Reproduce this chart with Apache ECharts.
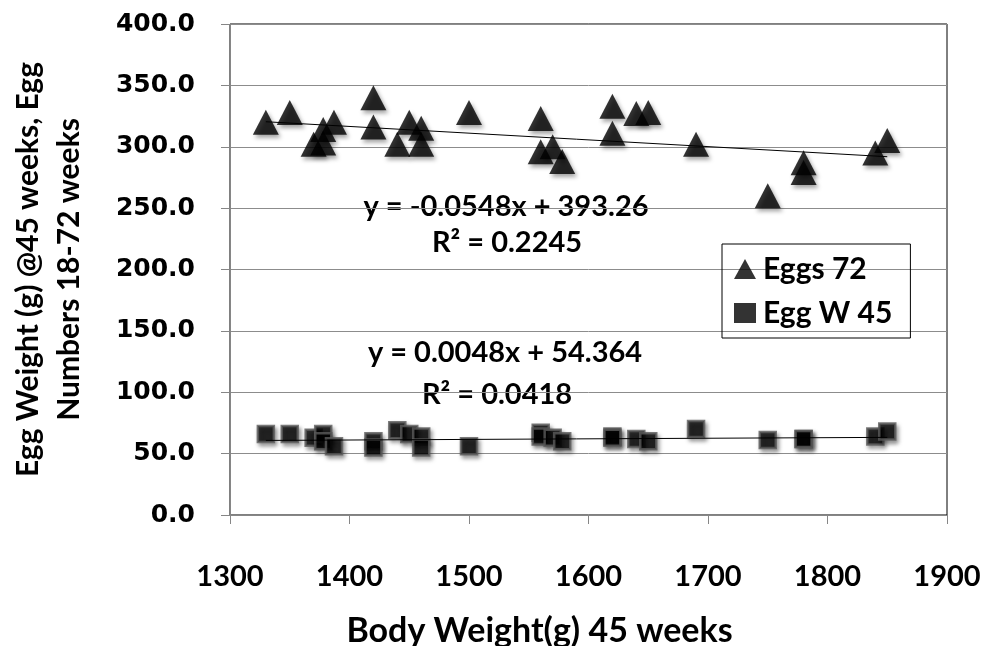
<!DOCTYPE html>
<html>
<head>
<meta charset="utf-8">
<script src="https://cdn.jsdelivr.net/npm/echarts@6/dist/echarts.min.js"></script>
<style>
html,body{margin:0;padding:0;background:#fff;}
#chart{width:987px;height:646px;}
</style>
</head>
<body>
<div id="chart"></div>
<script>
// Body weight (g) at 45 weeks
var bodyWeight = [1330,1350,1370,1378,1378,1387,1420,1420,1440,1450,1460,1460,1500,1560,1560,1570,1578,1620,1620,1640,1650,1690,1750,1780,1780,1840,1850];
// Egg numbers 18-72 weeks
var eggs72 = [320,328,302,303,314,320,340,316,302,320,315,302,328,323,296,300,288,333,311,327,328,302,260,287,279,295,305];
// Egg weight (g) at 45 weeks
var eggW45 = [66,66,63,66,60,56,60,55,69,66,64,55,56,67,64,63,60,64,63,62,60,70,61,62,62,64,68];
// Trendline coefficients (as printed on chart)
var trendEggs = {slope:-0.0548, intercept:393.26, r2:'0.2245'};
var trendW = {slope:0.0048, intercept:54.364, r2:'0.0418'};
var xTicks = [1300,1400,1500,1600,1700,1800,1900];
var yTicks = [0,50,100,150,200,250,300,350,400];

function pairs(xs, ys){ return xs.map(function(x,i){return [x, ys[i]];}); }
function trendPts(xs, t){
  var lo = Math.min.apply(null, xs), hi = Math.max.apply(null, xs);
  return [[lo, t.slope*lo + t.intercept],[hi, t.slope*hi + t.intercept]];
}

var chart = echarts.init(document.getElementById('chart'));
var shadow = {shadowBlur:4, shadowColor:'rgba(0,0,0,0.45)', shadowOffsetX:2, shadowOffsetY:3};
var calib = 'Lato, "Open Sans", sans-serif';

chart.setOption({
  animation:false,
  backgroundColor:'#fff',
  grid:{left:230, right:40, top:24, bottom:131, show:true, borderColor:'#000', borderWidth:1,
        containLabel:false, outerBoundsMode:'none'},
  xAxis:{
    type:'value', min:xTicks[0], max:xTicks[xTicks.length-1], interval:100,
    name:'Body Weight(g) 45 weeks', nameLocation:'middle', nameGap:99,
    nameTextStyle:{fontFamily:calib, fontWeight:'bold', fontSize:34, color:'#000', padding:[0,98,0,0]},
    axisLine:{show:true, lineStyle:{color:'#868686', width:1}},
    axisTick:{show:true, inside:false, length:9, lineStyle:{color:'#868686'}},
    axisLabel:{margin:47, fontFamily:calib, fontWeight:'bold', fontSize:29, color:'#000',
      formatter:function(v){return String(v);}},
    splitLine:{show:false}
  },
  yAxis:{
    type:'value', min:yTicks[0], max:yTicks[yTicks.length-1], interval:50,
    name:'Egg Weight (g) @45 weeks, Egg\nNumbers 18-72 weeks', nameLocation:'middle', nameRotate:90, nameGap:140,
    nameTextStyle:{fontFamily:calib, fontWeight:'bold', fontSize:30, color:'#000', lineHeight:41, align:'center'},
    axisLine:{show:true, lineStyle:{color:'#868686', width:1}},
    axisTick:{show:true, inside:false, length:9, lineStyle:{color:'#868686'}},
    axisLabel:{margin:35, fontFamily:'"DejaVu Sans", Verdana, sans-serif', fontWeight:'bold', fontSize:25, color:'#000',
      formatter:function(v){return v.toFixed(1);}},
    splitLine:{show:true, lineStyle:{color:'#8c8c8c', width:1}}
  },
  legend:{
    orient:'vertical', left:722, top:244, width:180,
    borderColor:'#000', borderWidth:1, padding:[10,18,10,12], itemGap:14,
    itemWidth:22, itemHeight:20,
    textStyle:{fontFamily:calib, fontWeight:'bold', fontSize:30, color:'#000', padding:[0,0,0,2]},
    data:[
      {name:'Eggs 72', icon:'triangle', itemStyle:{color:'#000', borderWidth:0, shadowBlur:0, shadowOffsetX:0, shadowOffsetY:0}},
      {name:'Egg W 45', icon:'rect', itemStyle:{color:'#000', borderWidth:0, shadowBlur:0, shadowOffsetX:0, shadowOffsetY:0}}
    ]
  },
  graphic:[
    {type:'text', style:{text:'y = -0.0548x + 393.26', x:506, y:207, textAlign:'center', textVerticalAlign:'middle', font:'bold 29px '+calib, fill:'#000'}},
    {type:'text', style:{text:'R\u00B2 = '+trendEggs.r2, x:507, y:243, textAlign:'center', textVerticalAlign:'middle', font:'bold 29px '+calib, fill:'#000'}},
    {type:'text', style:{text:'y = 0.0048x + 54.364', x:505, y:353, textAlign:'center', textVerticalAlign:'middle', font:'bold 29px '+calib, fill:'#000'}},
    {type:'text', style:{text:'R\u00B2 = '+trendW.r2, x:497, y:395, textAlign:'center', textVerticalAlign:'middle', font:'bold 29px '+calib, fill:'#000'}}
  ],
  series:[
    {name:'trendEggs', type:'line', data:trendPts(bodyWeight, trendEggs), symbol:'none', silent:true,
      lineStyle:{color:'#000', width:1}, z:3},
    {name:'trendW', type:'line', data:trendPts(bodyWeight, trendW), symbol:'none', silent:true,
      lineStyle:{color:'#000', width:1}, z:3},
    {name:'Eggs 72', type:'scatter', data:pairs(bodyWeight, eggs72), symbol:'triangle', symbolSize:[26,25],
      itemStyle:Object.assign({color:'#000'}, shadow), z:2},
    {name:'Egg W 45', type:'scatter', data:pairs(bodyWeight, eggW45), symbol:'rect', symbolSize:16,
      itemStyle:Object.assign({color:'#000', borderColor:'#5a5a5a', borderWidth:2.5}, shadow), z:2}
  ]
});
</script>
</body>
</html>
